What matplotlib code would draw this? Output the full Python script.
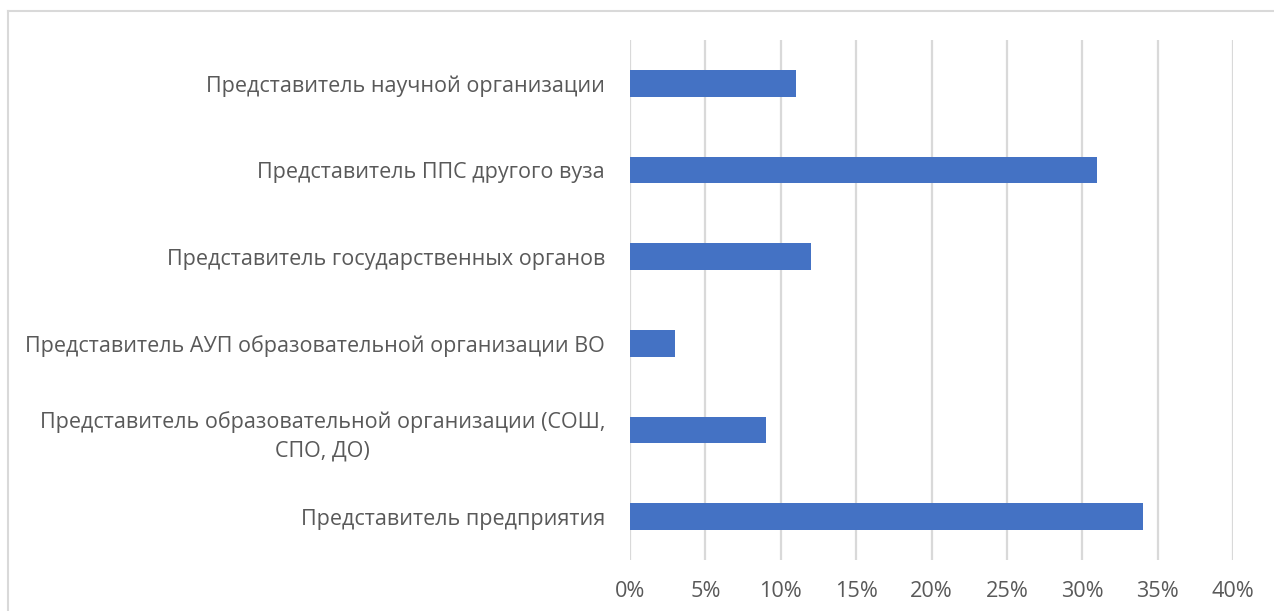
import matplotlib
matplotlib.use("Agg")
import matplotlib.pyplot as plt
from matplotlib.lines import Line2D
from matplotlib.ticker import FuncFormatter

plt.rcParams['font.family'] = ['Open Sans', 'DejaVu Sans']

categories = [
    "Представитель предприятия",
    "Представитель образовательной организации (СОШ,\nСПО, ДО)",
    "Представитель АУП образовательной организации ВО",
    "Представитель государственных органов",
    "Представитель ППС другого вуза",
    "Представитель научной организации",
]
values = [34, 9, 3, 12, 31, 11]
xticks = [0, 5, 10, 15, 20, 25, 30, 35, 40]

W, H = 1274, 611
fig = plt.figure(figsize=(W / 100, H / 100), dpi=100)
ax = fig.add_axes([630 / W, 1 - 560 / H, (1233 - 630) / W, (560 - 40) / H])

ax.barh(range(len(categories)), values, height=0.31, color='#4472C4', zorder=3)
ax.set_xlim(0, 40)
ax.set_ylim(-0.5, len(categories) - 0.5)
ax.set_xticks(xticks)
ax.xaxis.set_major_formatter(FuncFormatter(lambda v, p: f"{int(v)}%"))
ax.set_yticks(range(len(categories)))
ax.set_yticklabels(categories, multialignment='center', linespacing=1.5)
ax.tick_params(axis='both', length=0, colors='#595959')
ax.tick_params(axis='x', pad=15, labelsize=15.6)
ax.tick_params(axis='y', pad=18, labelsize=15.5)
ax.grid(axis='x', color='#d9d9d9', linewidth=1.6, zorder=0)
for s in ax.spines.values():
    s.set_visible(False)

# outer chart border (clipped at right and bottom)
fig.add_artist(Line2D([8 / W, 1], [1 - 11 / H, 1 - 11 / H], color='#d9d9d9', lw=1.5))
fig.add_artist(Line2D([8 / W, 8 / W], [0, 1 - 11 / H], color='#d9d9d9', lw=1.5))

fig.savefig("out.png", dpi=100, facecolor='white')
